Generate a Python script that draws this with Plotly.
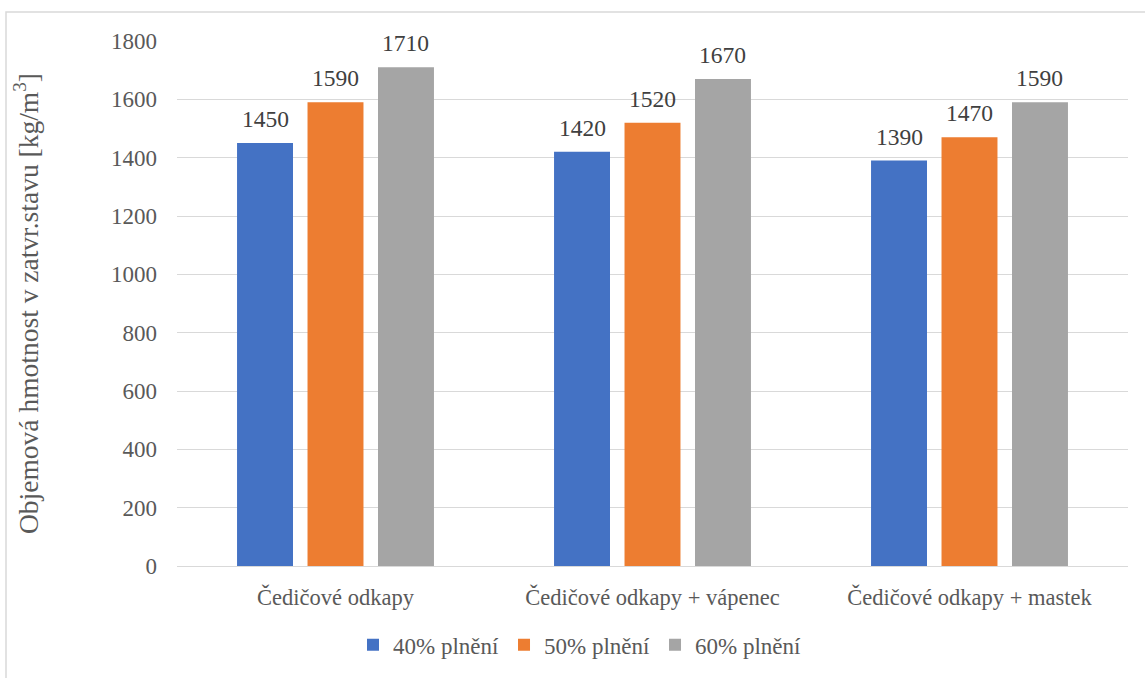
import plotly.graph_objects as go

categories = ["Čedičové odkapy", "Čedičové odkapy + vápenec", "Čedičové odkapy + mastek"]
series_names = ["40% plnění", "50% plnění", "60% plnění"]
values_40 = [1450, 1420, 1390]
values_50 = [1590, 1520, 1470]
values_60 = [1710, 1670, 1590]
colors = ["#4472C4", "#ED7D31", "#A5A5A5"]

FONT = "Liberation Serif"

L, R, T, B = 177, 17, 41, 110
W, H = 1145, 678
pw, ph = W - L - R, H - T - B
BARGAP, GROUPGAP = 0.333, 0.206
slot_px = pw / len(categories) * (1 - BARGAP) / len(series_names)

fig = go.Figure()
annotations = []
all_series = [values_40, values_50, values_60]
for i, (name, vals, col) in enumerate(zip(series_names, all_series, colors)):
    fig.add_trace(go.Bar(
        x=categories, y=vals, name=name, marker=dict(color=col, line=dict(width=0)),
        hoverinfo="skip",
    ))
    offset = (i - (len(series_names) - 1) / 2) * slot_px
    for c, v in zip(categories, vals):
        annotations.append(dict(
            x=c, y=v, xref="x", yref="y", text=str(v), showarrow=False,
            xanchor="center", yanchor="middle", xshift=offset, yshift=24,
            font=dict(family=FONT, size=23.5, color="#404040"),
        ))

fig.update_layout(
    width=W, height=H,
    margin=dict(l=L, r=R, t=T, b=B),
    paper_bgcolor="white", plot_bgcolor="white",
    barmode="group", bargap=BARGAP, bargroupgap=GROUPGAP,
    font=dict(family=FONT, size=23, color="#595959"),
    showlegend=True,
    legend=dict(orientation="h", x=(580 - L) / pw, xanchor="center",
                y=(H - B - 647) / ph, yanchor="middle",
                font=dict(family=FONT, size=23, color="#595959"),
                traceorder="normal", itemclick=False, itemdoubleclick=False),
    xaxis=dict(showgrid=False, showline=False, ticks="",
               tickfont=dict(family=FONT, size=22.5, color="#595959"),
               ticklabelstandoff=15, fixedrange=True),
    yaxis=dict(range=[0, 1800], dtick=200, showgrid=True, gridcolor="#D9D9D9",
               gridwidth=1, zeroline=True, zerolinecolor="#D9D9D9", zerolinewidth=1,
               showline=False, ticks="", fixedrange=True,
               tickfont=dict(family=FONT, size=23, color="#595959"), ticklabelstandoff=19,
               title=dict(text="Objemová hmotnost v zatvr.stavu [kg/m<sup>3</sup>]",
                          font=dict(family=FONT, size=27.5, color="#595959"), standoff=64)),
    annotations=annotations,
    shapes=[dict(type="rect", xref="paper", yref="paper",
                 x0=(6 - L) / pw, x1=(1160 - L) / pw,
                 y0=(H - B - 700) / ph, y1=1 + (T - 12) / ph,
                 line=dict(color="#D9D9D9", width=1.5), fillcolor="rgba(0,0,0,0)",
                 layer="below")],
)

fig.write_html("out.html", config={"displayModeBar": False},
               post_script="document.body.style.margin='0';document.body.style.padding='0';")
